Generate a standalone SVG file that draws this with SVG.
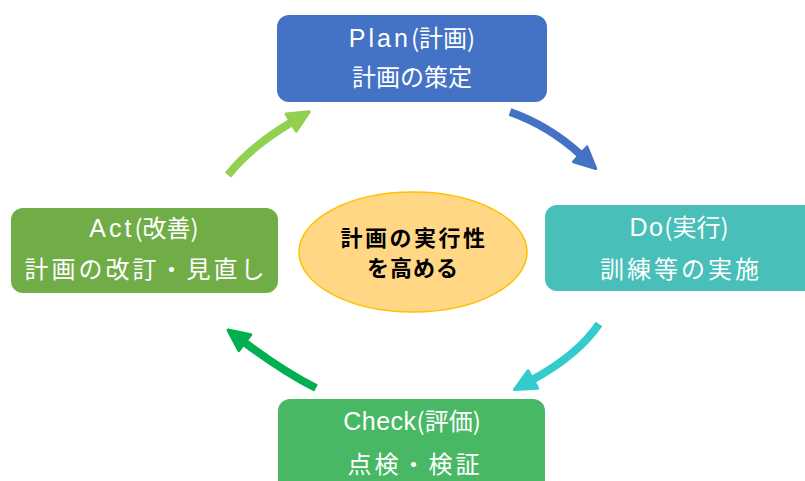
<svg xmlns="http://www.w3.org/2000/svg" width="805" height="481" viewBox="0 0 805 481">
<style>
.box{stroke:none}
.t{font-family:"Noto Sans CJK JP","Noto Sans",sans-serif;font-size:24px;fill:#fff;text-anchor:middle}
.l{font-family:"Liberation Sans",Arial,sans-serif;font-size:25px}
.c{font-family:"Noto Sans CJK JP",sans-serif;font-size:22px;font-weight:bold;fill:#000;text-anchor:middle}
.sh{fill:none;stroke-width:8;stroke-linecap:butt}
</style>
<defs>
<marker id="hGreen" markerUnits="userSpaceOnUse" markerWidth="30" markerHeight="30" viewBox="-5 -15 30 30" refX="0" refY="0" orient="auto" overflow="visible"><path d="M-1,-10 L20,0 L-1,10 Z" fill="#92D050" stroke="#92D050" stroke-width="3" stroke-linejoin="round"/></marker>
<marker id="hBlue" markerUnits="userSpaceOnUse" markerWidth="30" markerHeight="30" viewBox="-5 -15 30 30" refX="0" refY="0" orient="auto" overflow="visible"><path d="M-1,-10 L20,0 L-1,10 Z" fill="#4472C4" stroke="#4472C4" stroke-width="3" stroke-linejoin="round"/></marker>
<marker id="hTeal" markerUnits="userSpaceOnUse" markerWidth="30" markerHeight="30" viewBox="-5 -15 30 30" refX="0" refY="0" orient="auto" overflow="visible"><path d="M-1,-10 L20,0 L-1,10 Z" fill="#33CCCC" stroke="#33CCCC" stroke-width="3" stroke-linejoin="round"/></marker>
<marker id="hDark" markerUnits="userSpaceOnUse" markerWidth="30" markerHeight="30" viewBox="-5 -15 30 30" refX="0" refY="0" orient="auto" overflow="visible"><path d="M-1,-10 L20,0 L-1,10 Z" fill="#00B050" stroke="#00B050" stroke-width="3" stroke-linejoin="round"/></marker>
</defs>
<rect width="805" height="481" fill="#fff"/>
<g id="connectors">
<path class="sh" stroke="#92D050" d="M228,175 C240,160 258,142 292,122" marker-end="url(#hGreen)"/>
<path class="sh" stroke="#4472C4" d="M510,112 C530,119 557,133 581,155" marker-end="url(#hBlue)"/>
<path class="sh" stroke="#33CCCC" d="M599,324 C586,343 565,362 532,380" marker-end="url(#hTeal)"/>
<path class="sh" stroke="#00B050" d="M316,388 C296,378 272,363 244,342" marker-end="url(#hDark)"/>
</g>
<g id="plan">
<rect class="box" x="277" y="15" width="270" height="87" rx="12" fill="#4472C4"/>
<text class="t" x="412" y="47"><tspan class="l" letter-spacing="3">Plan</tspan>(計画)</text>
<text class="t" x="412" y="86">計画の策定</text>
</g>
<g id="do">
<rect class="box" x="545" y="205" width="280" height="86" rx="12" fill="#48BFB8"/>
<text class="t" x="679" y="236"><tspan class="l" letter-spacing="1.5">Do</tspan>(実行)</text>
<text class="t" x="681" y="278" letter-spacing="3">訓練等の実施</text>
</g>
<g id="act">
<rect class="box" x="11" y="208" width="267" height="85" rx="12" fill="#70AD47"/>
<text class="t" x="144" y="237"><tspan class="l" letter-spacing="3">Act</tspan>(改善)</text>
<text class="t" x="146" y="278" letter-spacing="3">計画の改訂・見直し</text>
</g>
<g id="check">
<rect class="box" x="278" y="399" width="267" height="100" rx="12" fill="#48B865"/>
<text class="t" x="412" y="430"><tspan class="l" letter-spacing="0.5">Check</tspan>(評価)</text>
<text class="t" x="415" y="473" letter-spacing="3">点検・検証</text>
</g>
<g id="center">
<ellipse cx="413" cy="252" rx="114" ry="60" fill="#FFD785" stroke="#FFC000" stroke-width="1.5"/>
<text class="c" x="414" y="246" letter-spacing="2.5">計画の実行性</text>
<text class="c" x="413" y="276" letter-spacing="1">を高める</text>
</g>
</svg>
